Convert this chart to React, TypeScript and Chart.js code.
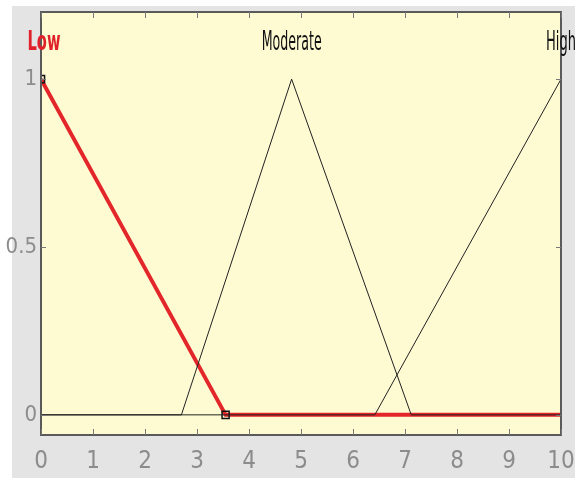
import React, { useEffect, useRef } from "react";
import { Chart, registerables } from "chart.js";

Chart.register(...registerables);

const lowX = [0, 3.55, 10];
const lowY = [1, 0, 0];
const moderateX = [0, 2.7, 4.82, 7.12, 10];
const moderateY = [0, 0, 1, 0, 0];
const highX = [0, 6.42, 10];
const highY = [0, 0, 1];
const xTicks = [0, 1, 2, 3, 4, 5, 6, 7, 8, 9, 10];
const yTicks = [0, 0.5, 1];
const mfNames = ["Low", "Moderate", "High"];
const mfPeaks = [0, 4.82, 10];

const FONT = "'DejaVu Sans Condensed', 'Liberation Sans Narrow', 'Liberation Sans', sans-serif";

const toPts = (xs: number[], ys: number[]) => xs.map((x, i) => ({ x, y: ys[i] }));

const labelStyle = [
  { color: "#e0202a", weight: "bold", width: 33, dx: 3 },
  { color: "#111", weight: "normal", width: 60, dx: 0 },
  { color: "#111", weight: "normal", width: 30, dx: 0 },
];

const decorPlugin = {
  id: "decor",
  beforeDraw(chart: any) {
    const { ctx, chartArea: a, width, height } = chart;
    ctx.save();
    ctx.fillStyle = "#ffffff";
    ctx.fillRect(0, 0, width, height);
    ctx.fillStyle = "#e4e4e4";
    ctx.fillRect(12, 6, width - 18, height - 10);
    ctx.fillStyle = "#fefad2";
    ctx.fillRect(a.left, a.top, a.right - a.left, a.bottom - a.top);
    ctx.restore();
  },
  afterDatasetsDraw(chart: any) {
    const { ctx, chartArea: a, scales } = chart;
    const xs = scales.x;
    const ys = scales.y;
    ctx.save();
    ctx.strokeStyle = "#5a5a5a";
    ctx.lineWidth = 2;
    ctx.strokeRect(a.left, a.top, a.right - a.left, a.bottom - a.top);
    ctx.lineWidth = 1;
    ctx.strokeStyle = "#777";
    xTicks.forEach((t) => {
      const px = Math.round(xs.getPixelForValue(t)) + 0.5;
      ctx.beginPath();
      ctx.moveTo(px, a.top);
      ctx.lineTo(px, a.top + 6);
      ctx.moveTo(px, a.bottom);
      ctx.lineTo(px, a.bottom - 6);
      ctx.stroke();
    });
    yTicks.forEach((t) => {
      const py = Math.round(ys.getPixelForValue(t)) + 0.5;
      ctx.beginPath();
      ctx.moveTo(a.left, py);
      ctx.lineTo(a.left + 5, py);
      ctx.moveTo(a.right, py);
      ctx.lineTo(a.right - 5, py);
      ctx.stroke();
    });
    ctx.textAlign = "center";
    ctx.textBaseline = "middle";
    mfNames.forEach((n, i) => {
      const st = labelStyle[i];
      const px = xs.getPixelForValue(mfPeaks[i]) + st.dx;
      ctx.save();
      ctx.fillStyle = st.color;
      ctx.font = st.weight + " 26px " + FONT;
      const w = ctx.measureText(n).width;
      ctx.translate(px, 43);
      ctx.scale(st.width / w, 1);
      ctx.fillText(n, 0, 0);
      ctx.restore();
    });
    ctx.restore();
  },
};

export default function App() {
  const ref = useRef<HTMLCanvasElement>(null);
  useEffect(() => {
    if (!ref.current) return;
    const chart = new Chart(ref.current, {
      type: "line",
      data: {
        datasets: [
          {
            label: "Low",
            data: toPts(lowX, lowY),
            borderColor: "#e3262a",
            borderWidth: 4,
            pointStyle: "rect",
            pointRadius: [5, 5, 0],
            pointBackgroundColor: "rgba(0,0,0,0)",
            pointBorderColor: "#111",
            pointBorderWidth: 1.5,
            order: 2,
          },
          {
            label: "Moderate",
            data: toPts(moderateX, moderateY),
            borderColor: "#222",
            borderWidth: 1,
            pointRadius: 0,
            order: 1,
          },
          {
            label: "High",
            data: toPts(highX, highY),
            borderColor: "#222",
            borderWidth: 1,
            pointRadius: 0,
            order: 1,
          },
        ],
      },
      options: {
        responsive: false,
        animation: false,
        parsing: false as any,
        layout: { padding: { top: 12, right: 20, left: 0, bottom: 0 } },
        plugins: { legend: { display: false }, tooltip: { enabled: false } },
        scales: {
          x: {
            type: "linear",
            min: 0,
            max: 10,
            afterBuildTicks: (s: any) => {
              s.ticks = xTicks.map((v) => ({ value: v }));
            },
            afterFit: (s: any) => {
              s.height = 47;
              s.paddingLeft = 0;
              s.paddingRight = 0;
            },
            grid: { display: false, drawTicks: false },
            border: { display: false },
            ticks: {
              color: "#8c8c8c",
              padding: 12,
              font: { family: FONT, size: 24 },
              maxRotation: 0,
              autoSkip: false,
              callback: (v: any) => String(v),
            },
          },
          y: {
            type: "linear",
            min: -0.06,
            max: 1.2,
            afterBuildTicks: (s: any) => {
              s.ticks = yTicks.map((v) => ({ value: v }));
            },
            afterFit: (s: any) => {
              s.width = 41;
              s.paddingTop = 0;
              s.paddingBottom = 0;
            },
            grid: { display: false, drawTicks: false },
            border: { display: false },
            ticks: {
              color: "#8c8c8c",
              padding: 4,
              font: { family: FONT, size: 22 },
              autoSkip: false,
              callback: (v: any) => String(v),
            },
          },
        },
      },
      plugins: [decorPlugin],
    });
    return () => chart.destroy();
  }, []);
  return (
    <div style={{ position: "fixed", left: 0, top: 0, width: 581, height: 482 }}>
      <canvas ref={ref} width={581} height={482} />
    </div>
  );
}
